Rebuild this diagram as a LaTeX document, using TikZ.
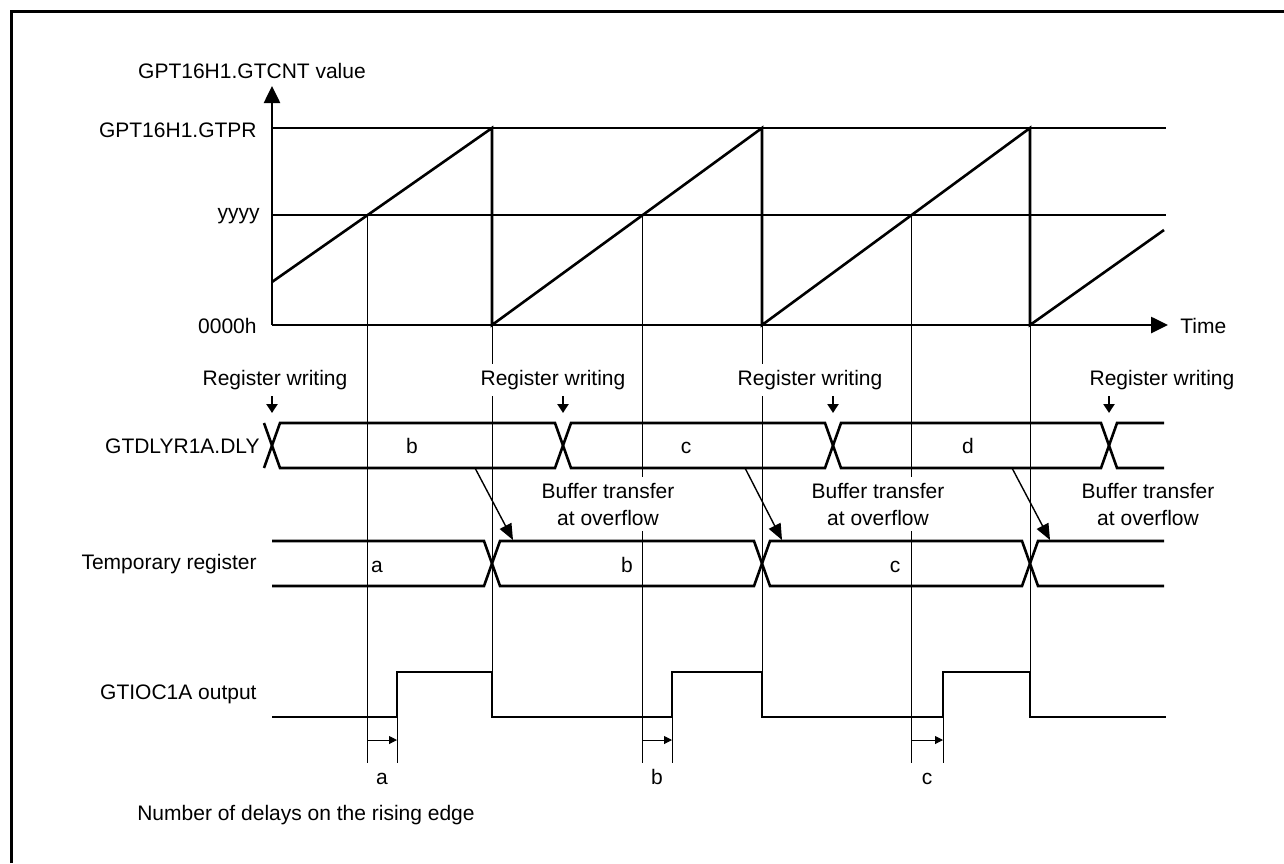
\documentclass[tikz,border=0pt]{standalone}
\usepackage{fontspec}
\setmainfont{Liberation Sans}
\usetikzlibrary{arrows.meta}
\tikzset{
  sig/.style={line width=1.3pt},
  guide/.style={line width=0.5pt},
  txt/.style={font=\fontsize{10.5}{13.5}\selectfont,inner sep=1pt},
  rowlbl/.style={txt,anchor=east},
  val/.style={txt,anchor=base},
  note/.style={txt,fill=white,align=center,inner xsep=2pt,inner ysep=3pt},
  axis/.style={sig,-{Triangle[length=8.5pt,width=8pt]}},
  wr/.style={line width=1.2pt,-{Triangle[length=4.5pt,width=5.5pt]}},
  xfer/.style={line width=0.7pt,-{Triangle[length=8pt,width=6.5pt]}},
  dl/.style={guide,-{Triangle[length=4pt,width=4pt]}},
}

\begin{document}
\begin{tikzpicture}[x=0.5pt,y=-0.5pt]
  \useasboundingbox (0,0) rectangle (1284,863);
  % frame
  \draw[line width=1.5pt] (11,863) -- (11,11.5) -- (1284,11.5);

  % counter
  \coordinate (org) at (272,325);
  \draw[axis] (org) -- (272,86);
  \draw[axis] (org) -- (1168,325);
  \node[txt] (ycnt) at (252,71) {GPT16H1.GTCNT value};
  \node[rowlbl] (ypr) at (259,130) {GPT16H1.GTPR};
  \node[rowlbl] (yyy) at (262,216) {yyyy};
  \node[rowlbl] (yzero) at (259,326) {0000h};
  \node[txt,anchor=west] (tlbl) at (1178,326) {Time};
  \draw[sig] (272,128) -- (1166,128);
  \draw[sig] (272,215) -- (1166,215);
  \draw[sig] (272,282) -- (492,128) -- (492,325) -- (762,128) -- (762,325)
    -- (1030,128) -- (1030,325) -- (1164,230);

  % guide lines
  \draw[guide] (367,215) -- (367,763);
  \draw[guide] (642,215) -- (642,763);
  \draw[guide] (911,215) -- (911,763);
  \draw[guide] (492,325) -- (492,672);
  \draw[guide] (762,325) -- (762,672);
  \draw[guide] (1030,325) -- (1030,672);
  \draw[guide] (397,717) -- (397,763);
  \draw[guide] (672,717) -- (672,763);
  \draw[guide] (943,717) -- (943,763);

  % GTDLYR1A.DLY
  \node[rowlbl] (dlylbl) at (262,446) {GTDLYR1A.DLY};
  \draw[sig] (264,423) -- (280,468) -- (555,468) -- (571,423) -- (825,423)
    -- (841,468) -- (1101,468) -- (1117,423) -- (1164,423);
  \draw[sig] (264,468) -- (280,423) -- (555,423) -- (571,468) -- (825,468)
    -- (841,423) -- (1101,423) -- (1117,468) -- (1164,468);
  \node[val] (dlyb) at (412,453) {b};
  \node[val] (dlyc) at (686,453) {c};
  \node[val] (dlyd) at (968,453) {d};

  \node[note] (rw1) at (275,380) {Register writing};
  \node[note] (rw2) at (553,380) {Register writing};
  \node[note] (rw3) at (810,380) {Register writing};
  \node[note] (rw4) at (1162,380) {Register writing};
  \coordinate (w1) at (272,413);
  \coordinate (w2) at (563,413);
  \coordinate (w3) at (833,413);
  \coordinate (w4) at (1109,413);
  \draw[wr] (w1 |- rw1.south) -- (w1);
  \draw[wr] (w2 |- rw2.south) -- (w2);
  \draw[wr] (w3 |- rw3.south) -- (w3);
  \draw[wr] (w4 |- rw4.south) -- (w4);

  % temporary register
  \node[rowlbl] (tmplbl) at (259,564) {Temporary register};
  \draw[sig] (272,541) -- (484,541) -- (500,586) -- (754,586) -- (770,541)
    -- (1022,541) -- (1038,586) -- (1164,586);
  \draw[sig] (272,586) -- (484,586) -- (500,541) -- (754,541) -- (770,586)
    -- (1022,586) -- (1038,541) -- (1164,541);
  \node[val] (tmpa) at (377,572) {a};
  \node[val] (tmpb) at (627,572) {b};
  \node[val] (tmpc) at (895,572) {c};

  \node[note] (bt1) at (608,504) {Buffer transfer\\at overflow};
  \node[note] (bt2) at (878,504) {Buffer transfer\\at overflow};
  \node[note] (bt3) at (1148,504) {Buffer transfer\\at overflow};
  \coordinate (s1) at (475,468);
  \coordinate (s2) at (745,468);
  \coordinate (s3) at (1012,468);
  \coordinate (e1) at (513,540);
  \coordinate (e2) at (782,540);
  \coordinate (e3) at (1050,540);
  \draw[xfer] (s1) -- (e1);
  \draw[xfer] (s2) -- (e2);
  \draw[xfer] (s3) -- (e3);

  % output
  \node[rowlbl] (outlbl) at (259,694) {GTIOC1A output};
  \draw[sig] (272,717) -- (397,717) -- (397,672) -- (492,672) -- (492,717)
    -- (672,717) -- (672,672) -- (762,672) -- (762,717) -- (943,717)
    -- (943,672) -- (1030,672) -- (1030,717) -- (1166,717);

  % delays
  \coordinate (da0) at (367,740);
  \coordinate (da1) at (397,740);
  \coordinate (db0) at (642,740);
  \coordinate (db1) at (672,740);
  \coordinate (dc0) at (911,740);
  \coordinate (dc1) at (943,740);
  \draw[dl] (da0) -- (da1);
  \draw[dl] (db0) -- (db1);
  \draw[dl] (dc0) -- (dc1);
  \node[val] (dla) at (382,784) {a};
  \node[val] (dlb) at (657,784) {b};
  \node[val] (dlc) at (927,784) {c};
  \node[txt] (ndl) at (306,815) {Number of delays on the rising edge};
\end{tikzpicture}
\end{document}
